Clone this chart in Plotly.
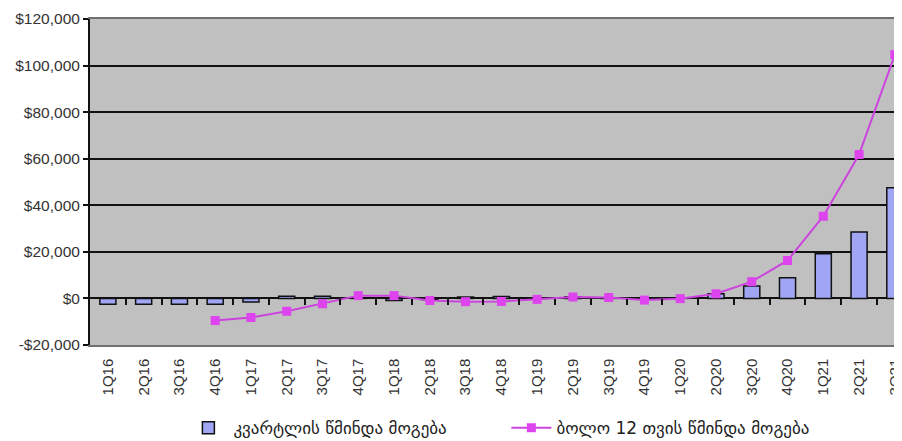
import plotly.graph_objects as go

quarters = ["1Q16", "2Q16", "3Q16", "4Q16", "1Q17", "2Q17", "3Q17", "4Q17",
            "1Q18", "2Q18", "3Q18", "4Q18", "1Q19", "2Q19", "3Q19", "4Q19",
            "1Q20", "2Q20", "3Q20", "4Q20", "1Q21", "2Q21", "3Q21"]

quarterly_profit = [-2500, -2500, -2500, -2500, -1500, 900, 900, 200,
                    -900, -500, 600, 800, 300, 700, 300, -300,
                    200, 2000, 5300, 8900, 19200, 28500, 47500]

ttm_profit = [None, None, None, -9500, -8200, -5500, -2300, 1200,
              1200, -900, -1400, -1300, -400, 600, 400, -700,
              -100, 2000, 7200, 16300, 35300, 61800, 104700]

y_ticks = [-20000, 0, 20000, 40000, 60000, 80000, 100000, 120000]
y_tick_labels = ["-$20,000", "$0", "$20,000", "$40,000", "$60,000",
                 "$80,000", "$100,000", "$120,000"]

idx = list(range(len(quarters)))
boundaries = [i + 0.5 for i in idx]

fig = go.Figure()
fig.add_trace(go.Bar(
    x=idx, y=quarterly_profit, name="კვარტლის წმინდა მოგება",
    marker=dict(color="#A0A6F4", line=dict(color="#111111", width=1.5)),
    width=0.45, xaxis="x", yaxis="y",
))
fig.add_trace(go.Scatter(
    x=idx, y=ttm_profit, name="ბოლო 12 თვის წმინდა მოგება",
    mode="lines+markers", connectgaps=False,
    line=dict(color="#CC44DD", width=2),
    marker=dict(symbol="square", size=9, color="#DD44EE"),
    xaxis="x2", yaxis="y",
))

xrange = [-0.5, 22.2]
fig.update_layout(
    width=894, height=433,
    margin=dict(l=82, r=0, t=11, b=96, autoexpand=False),
    paper_bgcolor="white", plot_bgcolor="#C0C0C0",
    font=dict(family="Liberation Sans, Arial, sans-serif", size=14, color="#333333"),
    showlegend=True,
    legend=dict(orientation="h", x=0.115, y=-0.2, xanchor="left", yanchor="top",
                font=dict(family="DejaVu Sans, sans-serif", size=17, color="#222222"),
                itemwidth=40, entrywidthmode="pixels", entrywidth=268,
                bgcolor="rgba(0,0,0,0)", tracegroupgap=0),
    xaxis=dict(range=xrange, tickmode="array", tickvals=idx, ticktext=quarters,
               tickangle=-90, ticks="outside", ticklen=6, tickcolor="rgba(0,0,0,0)",
               showgrid=False, zeroline=False, automargin=False,
               ticklabeloverflow="allow",
               showline=True, mirror=True, linecolor="#707070", linewidth=1.5,
               tickfont=dict(size=15, color="#333333")),
    xaxis2=dict(range=xrange, overlaying="x", anchor="free", position=1/7,
                side="bottom", tickmode="array", tickvals=boundaries,
                showticklabels=False, ticks="outside", ticklen=6, tickwidth=1.5,
                tickcolor="#111111", showgrid=False, zeroline=False, showline=False),
    yaxis=dict(range=[-20000, 120000], tickmode="array", tickvals=y_ticks,
               ticktext=y_tick_labels, ticks="outside", ticklen=5, tickwidth=1.5,
               tickcolor="#111111", showline=True, linecolor="#111111", linewidth=2,
               showgrid=True, gridcolor="#111111", gridwidth=1.5, automargin=False,
               zeroline=True, zerolinecolor="#111111", zerolinewidth=1.5,
               tickfont=dict(size=15.5, color="#333333")),
)

fig.write_html("out.html")
